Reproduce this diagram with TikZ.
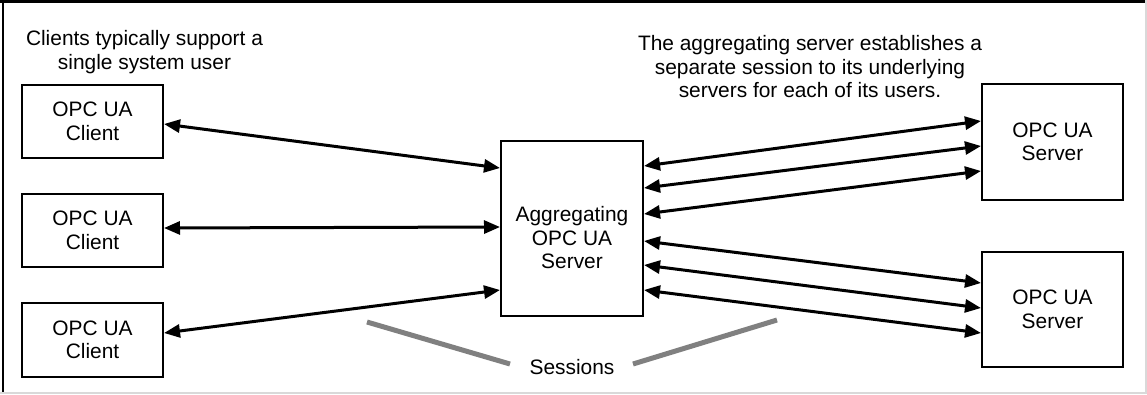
\documentclass[tikz,border=0pt]{standalone}
\usepackage{fontspec}
\setmainfont{Liberation Sans}
\usetikzlibrary{arrows.meta,calc}
\begin{document}
\begin{tikzpicture}[x=1pt,y=-1pt,
  txt/.style={font=\fontsize{20.9}{23.5}\selectfont, align=center, inner sep=0pt},
  box/.style={draw, line width=2pt, inner sep=0pt, minimum width=141pt, txt},
  link/.style={line width=3pt, {Triangle[length=16pt,width=13pt]}-{Triangle[length=16pt,width=13pt]}},
  sess/.style={line width=5pt, draw=gray},
]
\useasboundingbox (0,0) rectangle (1147,394);
\fill[white] (0,0) rectangle (1147,394);
% frame
\draw[line width=2.5pt] (0,1.3) -- (1147,1.3);
\draw[line width=2pt] (3,0) -- (3,394);
\draw[line width=1.5pt, draw=black!15] (1146,0) -- (1146,394);
\draw[line width=1.5pt, draw=black!15] (0,393) -- (1147,393);

% texts
\node[txt, anchor=north] (lefttext) at (144.5,30.5) {Clients typically support a\\single system user};
\node[txt, anchor=north] (righttext) at (810,35.5) {The aggregating server establishes a\\separate session to its underlying\\servers for each of its users.};

% boxes
\node[box, minimum height=73pt] (c1) at (92.5,121.5) {OPC UA\\Client};
\node[box, minimum height=73pt] (c2) at (92.5,230.5) {OPC UA\\Client};
\node[box, minimum height=74pt] (c3) at (92.5,340) {OPC UA\\Client};
\node[box, minimum width=142pt, minimum height=175pt] (agg) at (572,228.5) {};
\node[txt] (aggtext) at ([yshift=-9.5pt]agg.center) {Aggregating\\OPC UA\\Server};
\node[box, minimum height=116pt] (s1) at (1052.5,142) {OPC UA\\Server};
\node[box, minimum height=115pt] (s2) at (1052.5,309.5) {OPC UA\\Server};

% client links
\draw[link] ($(c1.north east)+(0,40)$) -- ($(agg.north west)+(0,28)$);
\draw[link] ($(c2.north east)+(0,35)$) -- ($(agg.north west)+(0,87)$);
\draw[link] ($(c3.north east)+(0,31)$) -- ($(agg.north west)+(0,150)$);

% server links
\draw[link] ($(agg.north east)+(0,26)$) -- ($(s1.north west)+(0,38)$);
\draw[link] ($(agg.north east)+(0,48)$) -- ($(s1.north west)+(0,63)$);
\draw[link] ($(agg.north east)+(0,74)$) -- ($(s1.north west)+(0,88)$);
\draw[link] ($(agg.north east)+(0,101)$) -- ($(s2.north west)+(0,32)$);
\draw[link] ($(agg.north east)+(0,125)$) -- ($(s2.north west)+(0,57)$);
\draw[link] ($(agg.north east)+(0,150)$) -- ($(s2.north west)+(0,82)$);

% sessions
\node[txt] (sessions) at (572,367) {Sessions};
\coordinate (sl1) at (367,322);
\coordinate (sl2) at (510,364);
\coordinate (sr1) at (633,364);
\coordinate (sr2) at (777,320);
\draw[sess] (sl1) -- (sl2);
\draw[sess] (sr1) -- (sr2);
\end{tikzpicture}
\end{document}
